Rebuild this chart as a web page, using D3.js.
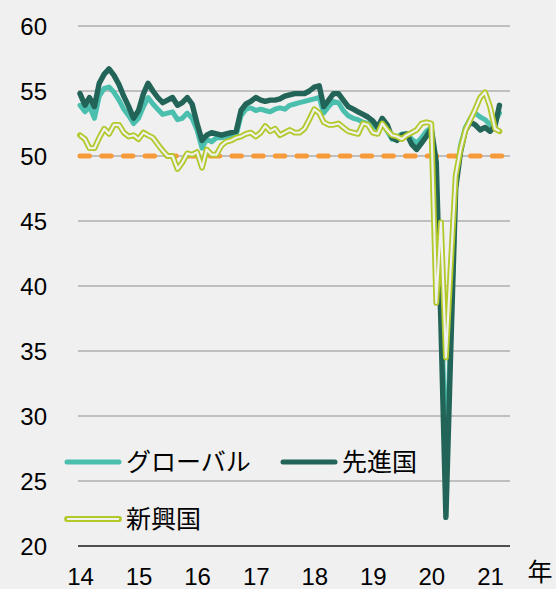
<!DOCTYPE html>
<html>
<head>
<meta charset="utf-8">
<script src="https://cdn.jsdelivr.net/npm/d3@7"></script>
<style>
    body { margin: 0; background: #f0f0f0; }
    svg { display: block; }
    .num { font-family: "Liberation Sans", Arial, sans-serif; font-size: 24px; fill: #000; }
    .jp { font-family: "Noto Sans CJK JP", sans-serif; font-size: 25px; fill: #000; }
</style>
</head>
<body>
<div id="chart"></div>
<script>
// monthly PMI, Jan 2014 .. Mar 2021
let months = d3.timeMonths(new Date(2014, 0, 1), new Date(2021, 3, 1));

let globalPmi = [
    53.9, 53.4, 53.8, 52.9, 54.6, 55.2, 55.3, 54.9, 54.3, 53.6, 53.1, 52.5,
    52.9, 53.8, 54.5, 54.0, 53.6, 53.2, 53.3, 53.4, 52.8, 52.9, 53.3, 52.9,
    52.0, 50.6, 51.3, 51.1, 51.4, 51.4, 51.5, 51.5, 51.6, 53.1, 53.6, 53.7,
    53.5, 53.6, 53.5, 53.4, 53.6, 53.7, 53.6, 53.9, 54.0, 54.1, 54.2, 54.3,
    54.4, 54.5, 53.3, 53.8, 54.2, 54.1, 53.5, 53.1, 52.9, 52.8, 52.6, 52.5,
    52.3, 52.1, 52.6, 51.9, 51.3, 51.4, 51.7, 51.7, 51.3, 51.0, 51.4, 51.9,
    52.2, 46.1, 39.4, 26.2, 36.3, 47.7, 50.8, 52.2, 52.9, 53.3, 53.0, 52.8,
    52.4, 52.6, 53.3
];
let developedPmi = [
    54.8, 53.9, 54.5, 53.8, 55.6, 56.3, 56.7, 56.2, 55.5, 54.6, 53.8, 52.9,
    53.5, 54.8, 55.6, 55.0, 54.5, 54.1, 54.3, 54.5, 53.9, 54.1, 54.5, 54.0,
    52.5, 51.2, 51.6, 51.8, 51.7, 51.6, 51.7, 51.8, 51.9, 53.5, 54.0, 54.2,
    54.5, 54.3, 54.2, 54.3, 54.3, 54.4, 54.6, 54.7, 54.8, 54.8, 54.8, 55.0,
    55.3, 55.4, 53.8, 54.3, 54.8, 54.8, 54.3, 53.8, 53.6, 53.4, 53.2, 53.0,
    52.7, 52.2, 52.9, 52.4, 51.4, 51.2, 51.6, 51.7, 50.9, 50.5, 51.0, 51.5,
    52.1, 49.5, 37.0, 22.2, 35.0, 47.5, 50.3, 52.0, 52.6, 52.4, 52.0, 52.2,
    51.9, 52.3, 53.9
];
let emergingPmi = [
    51.6, 51.3, 50.6, 50.6, 51.4, 52.1, 51.7, 52.4, 52.4, 51.8, 51.5, 51.6,
    51.3, 51.8, 51.6, 51.4, 50.9, 50.4, 50.0, 50.0, 49.0, 49.5, 50.2, 50.1,
    50.3, 49.1, 50.5, 50.1, 50.1, 50.8, 51.1, 51.2, 51.4, 51.5, 51.7, 51.8,
    51.5, 51.8, 52.3, 51.9, 52.1, 51.6, 51.8, 52.0, 51.8, 51.8, 52.1, 52.8,
    53.6, 53.3, 52.6, 52.4, 52.4, 52.5, 52.2, 51.9, 51.8, 51.7, 52.5, 52.4,
    51.8, 51.7, 52.5, 52.0, 51.6, 51.5, 51.3, 51.6, 51.8, 52.0, 52.5, 52.6,
    52.5, 38.7, 44.9, 34.5, 41.5, 48.5, 50.5, 52.0, 52.8, 53.6, 54.5, 54.9,
    53.8, 52.1, 51.9
];

let yTicks = [20, 25, 30, 35, 40, 45, 50, 55, 60];
let xTicks = [2014, 2015, 2016, 2017, 2018, 2019, 2020, 2021];
let seriesNames = ["グローバル", "先進国", "新興国"];
let threshold = 50;

let chart = {
    width: 556,
    height: 589,
    left: 78,
    right: 510,
    colors: { global: "#4bbfad", developed: "#236458", emerging: "#b3c829", line50: "#f79a3a", grid: "#bfbfbf" },

    draw: function() {
        this.svg = d3.select("#chart").append("svg")
            .attr("width", this.width)
            .attr("height", this.height);
        this.x = d3.scaleTime()
            .domain([new Date(2014, 0, 1), new Date(2021, 0, 1)])
            .range([80, 490]);
        this.y = d3.scaleLinear()
            .domain([20, 60])
            .range([546, 26]);
        this.drawGrid();
        this.drawAxes();
        this.drawSeries();
        this.drawLegend();
    },

    drawGrid: function() {
        let y = this.y;
        this.svg.append("g").selectAll("line")
            .data(yTicks.filter(d => d > 20))
            .join("line")
            .attr("x1", this.left).attr("x2", this.right)
            .attr("y1", d => y(d)).attr("y2", d => y(d))
            .attr("stroke", this.colors.grid)
            .attr("stroke-width", 2);
        // base line at 20
        this.svg.append("line")
            .attr("x1", this.left).attr("x2", this.right)
            .attr("y1", y(20)).attr("y2", y(20))
            .attr("stroke", "#1a1a1a")
            .attr("stroke-width", 1.6);
    },

    drawAxes: function() {
        let leftAxis = d3.axisLeft(this.y).tickValues(yTicks).tickSize(0).tickPadding(0);
        let gy = this.svg.append("g")
            .attr("transform", "translate(47,0)")
            .call(leftAxis);
        gy.select(".domain").remove();
        gy.selectAll("text").attr("class", "num").attr("font-size", null).attr("font-family", null)
            .attr("dy", "0.36em");

        let bottomAxis = d3.axisBottom(this.x)
            .tickValues(xTicks.map(v => new Date(v, 0, 1)))
            .tickFormat(d3.timeFormat("%y"))
            .tickSize(0);
        let gx = this.svg.append("g")
            .attr("transform", "translate(0," + this.y(20) + ")")
            .call(bottomAxis);
        gx.select(".domain").remove();
        gx.selectAll("text").attr("class", "num").attr("font-size", null).attr("font-family", null)
            .attr("y", 39).attr("dy", null);

        this.svg.append("text")
            .attr("class", "jp")
            .attr("x", 540).attr("y", 581)
            .attr("text-anchor", "middle")
            .text("年");
    },

    drawSeries: function() {
        let x = this.x, y = this.y;
        let line = d3.line()
            .x((d, i) => x(months[i]))
            .y(d => y(d));

        this.svg.append("line")
            .attr("x1", this.left + 2).attr("x2", this.right - 8)
            .attr("y1", y(threshold)).attr("y2", y(threshold))
            .attr("stroke", this.colors.line50)
            .attr("stroke-width", 5)
            .attr("stroke-linecap", "round")
            .attr("stroke-dasharray", "9.5 12.2");

        let paths = [
            [globalPmi, this.colors.global, 5],
            [developedPmi, this.colors.developed, 5.4],
            [emergingPmi, this.colors.emerging, 5.8]
        ];
        paths.forEach(p => {
            this.svg.append("path")
                .datum(p[0])
                .attr("d", line)
                .attr("fill", "none")
                .attr("stroke", p[1])
                .attr("stroke-width", p[2])
                .attr("stroke-linejoin", "round")
                .attr("stroke-linecap", "round");
        });
        // emerging is drawn as a hollow double line
        this.svg.append("path")
            .datum(emergingPmi)
            .attr("d", line)
            .attr("fill", "none")
            .attr("stroke", "#f0f0f0")
            .attr("stroke-width", 2.2)
            .attr("stroke-linejoin", "round");
    },

    drawLegend: function() {
        let items = [
            { name: seriesNames[0], color: this.colors.global, x: 67, y: 462, hollow: false },
            { name: seriesNames[1], color: this.colors.developed, x: 283, y: 462, hollow: false },
            { name: seriesNames[2], color: this.colors.emerging, x: 67, y: 519, hollow: true }
        ];
        let g = this.svg.append("g");
        items.forEach(it => {
            g.append("line")
                .attr("x1", it.x).attr("x2", it.x + 52)
                .attr("y1", it.y).attr("y2", it.y)
                .attr("stroke", it.color)
                .attr("stroke-width", it.hollow ? 5.8 : 5)
                .attr("stroke-linecap", "round");
            if (it.hollow) {
                g.append("line")
                    .attr("x1", it.x).attr("x2", it.x + 52)
                    .attr("y1", it.y).attr("y2", it.y)
                    .attr("stroke", "#f0f0f0")
                    .attr("stroke-width", 2.2);
            }
            g.append("text")
                .attr("class", "jp")
                .attr("x", it.x + 59).attr("y", it.y)
                .attr("dy", "0.36em")
                .text(it.name);
        });
    }
};

chart.draw();
</script>
</body>
</html>
